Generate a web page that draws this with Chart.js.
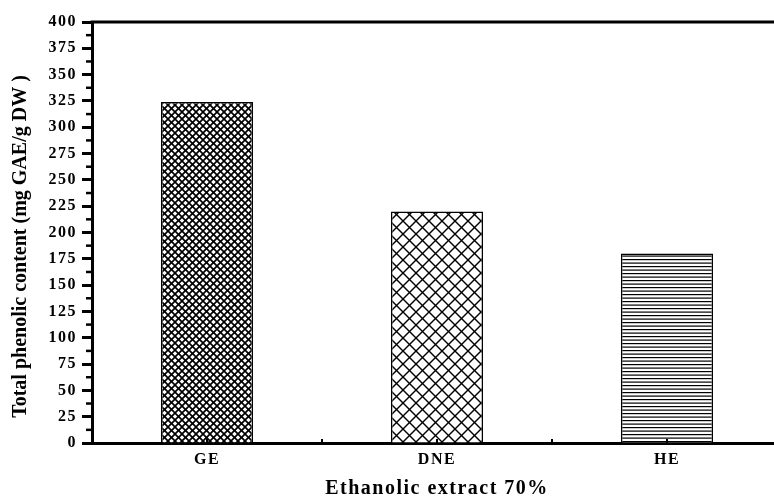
<!DOCTYPE html>
<html>
<head>
<meta charset="utf-8">
<script src="https://cdn.jsdelivr.net/npm/chart.js@4.4.1/dist/chart.umd.min.js"></script>
<style>
  html, body { margin: 0; padding: 0; background: #fff; overflow: hidden; }
  #wrap { width: 782px; height: 497px; }
</style>
</head>
<body>
<div id="wrap"><canvas id="c" width="782" height="497"></canvas></div>
<script>
// Extract types and their total phenolic content (mg GAE/g DW)
const categories = ['GE', 'DNE', 'HE'];
const phenolic = [324, 220, 180];
const yTicks = [0, 25, 50, 75, 100, 125, 150, 175, 200, 225, 250, 275, 300, 325, 350, 375, 400];
const xTitle = 'Ethanolic extract 70%';
const yTitle = 'Total phenolic content (mg GAE/g DW )';

const FAMILY = '"Liberation Serif", "Times New Roman", serif';

// Hatch fills for the bars
function crossHatch(size, lw) {
  const t = document.createElement('canvas');
  t.width = size; t.height = size;
  const g = t.getContext('2d');
  g.fillStyle = '#fff'; g.fillRect(0, 0, size, size);
  g.strokeStyle = '#000'; g.lineWidth = lw;
  for (const o of [-size, 0, size]) {
    g.beginPath(); g.moveTo(o, 0); g.lineTo(o + size, size); g.stroke();
    g.beginPath(); g.moveTo(o + size, 0); g.lineTo(o, size); g.stroke();
  }
  return g.createPattern(t, 'repeat');
}
function horizontalLines() {
  const t = document.createElement('canvas');
  t.width = 8; t.height = 7;
  const g = t.getContext('2d');
  g.fillStyle = '#fff'; g.fillRect(0, 0, 8, 7);
  g.fillStyle = '#000';
  g.fillRect(0, 0, 8, 1.2);
  g.fillRect(0, 3.5, 8, 1.2);
  return g.createPattern(t, 'repeat');
}
const fills = [crossHatch(7, 1.7), crossHatch(13, 1.4), horizontalLines()];

// Frame, minor ticks and the rotated y-axis title
const framePlugin = {
  id: 'frame',
  beforeDraw(chart) { chart.ctx.letterSpacing = '1.5px'; },
  afterDraw(chart) {
    const { ctx, chartArea: a, scales: { x, y } } = chart;
    ctx.save();
    ctx.letterSpacing = '0px';
    ctx.strokeStyle = '#000';
    ctx.lineWidth = 3;
    ctx.beginPath(); ctx.moveTo(a.left - 1.5, a.top); ctx.lineTo(a.right, a.top); ctx.stroke();

    ctx.lineWidth = 2.5;
    for (let v = 12.5; v < 400; v += 25) {
      const p = y.getPixelForValue(v);
      ctx.beginPath(); ctx.moveTo(a.left - 6, p); ctx.lineTo(a.left, p); ctx.stroke();
    }

    ctx.lineWidth = 2;
    const centers = categories.map((_, i) => x.getPixelForValue(i));
    const marks = centers.slice();
    for (let i = 0; i < centers.length - 1; i++) marks.push((centers[i] + centers[i + 1]) / 2);
    for (const m of marks) {
      ctx.beginPath(); ctx.moveTo(m, a.bottom); ctx.lineTo(m, a.bottom - 4); ctx.stroke();
    }

    ctx.fillStyle = '#000';
    ctx.font = 'bold 20px ' + FAMILY;
    ctx.textAlign = 'center';
    ctx.textBaseline = 'middle';
    ctx.translate(21, (a.top + a.bottom) / 2 + 14);
    ctx.rotate(-Math.PI / 2);
    ctx.fillText(yTitle, 0, 0);
    ctx.restore();
  }
};

new Chart(document.getElementById('c'), {
  type: 'bar',
  data: {
    labels: categories,
    datasets: [{
      data: phenolic,
      backgroundColor: fills,
      borderColor: '#000',
      borderWidth: 1.5,
      barPercentage: 0.4,
      categoryPercentage: 1
    }]
  },
  options: {
    responsive: false,
    devicePixelRatio: 1,
    animation: false,
    layout: { padding: { top: 22, left: 0, right: 0, bottom: 0 } },
    plugins: { legend: { display: false }, tooltip: { enabled: false } },
    scales: {
      x: {
        grid: { display: false, drawTicks: false },
        border: { display: true, width: 3, color: '#000' },
        ticks: { color: '#000', padding: 7, font: { family: FAMILY, size: 16, weight: 'bold' } },
        title: {
          display: true, text: xTitle, color: '#000',
          font: { family: FAMILY, size: 20, weight: 'bold', lineHeight: 1 },
          padding: { top: 0, bottom: -2 }
        },
        afterFit(s) { s.height = 54; }
      },
      y: {
        min: 0, max: 400,
        afterBuildTicks(s) { s.ticks = yTicks.map(v => ({ value: v })); },
        ticks: { color: '#000', padding: 5, font: { family: FAMILY, size: 16, weight: 'bold' } },
        grid: { drawOnChartArea: false, drawTicks: true, tickLength: 10, tickWidth: 3, tickColor: '#000' },
        border: { display: true, width: 3, color: '#000' },
        afterFit(s) { s.width = 92; }
      }
    }
  },
  plugins: [framePlugin]
});
</script>
</body>
</html>
